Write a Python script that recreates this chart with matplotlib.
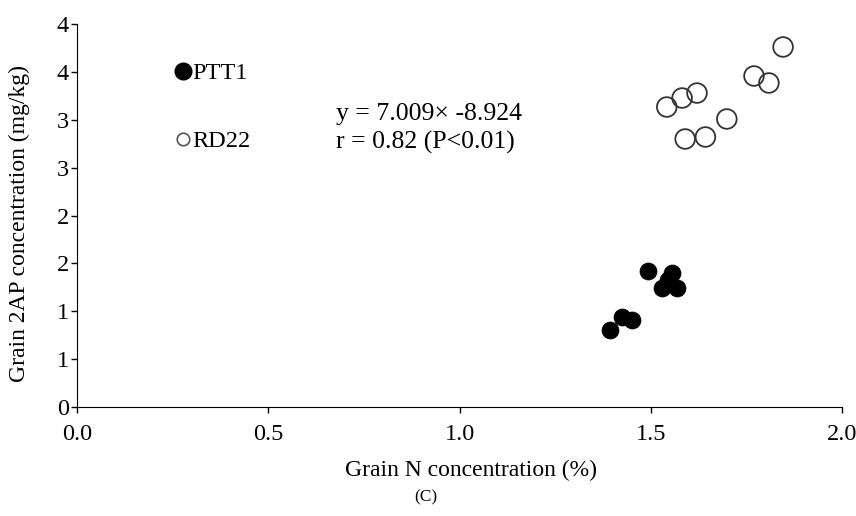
import matplotlib
matplotlib.use("Agg")
import matplotlib.pyplot as plt
from matplotlib.lines import Line2D

plt.rcParams["font.family"] = ["Liberation Serif", "DejaVu Serif"]

# PTT1 (filled)
ptt1_n  = [1.393, 1.425, 1.451, 1.493, 1.556, 1.529, 1.569, 1.545]
ptt1_ap = [0.804, 0.940, 0.909, 1.420, 1.399, 1.243, 1.243, 1.326]
# RD22 (open)
rd22_n  = [1.542, 1.582, 1.621, 1.590, 1.643, 1.699, 1.770, 1.809, 1.846]
rd22_ap = [3.133, 3.227, 3.279, 2.799, 2.820, 3.008, 3.457, 3.384, 3.760]

x_ticks = [0.0, 0.5, 1.0, 1.5, 2.0]
x_tick_labels = ["0.0", "0.5", "1.0", "1.5", "2.0"]
y_ticks = [0, 0.5, 1, 1.5, 2, 2.5, 3, 3.5, 4]
y_tick_labels = ["0", "1", "1", "2", "2", "3", "3", "4", "4"]

fig = plt.figure(figsize=(8.56, 5.16), dpi=100)
ax = fig.add_axes([0.090, 0.2112, 0.8936, 0.7423])

ax.scatter(ptt1_n, ptt1_ap, s=150, c="black", edgecolors="black",
           linewidths=0.5, zorder=3)
ax.scatter(rd22_n, rd22_ap, s=200, facecolors="none", edgecolors="#333333",
           linewidths=1.3, zorder=3)

ax.set_xlim(0, 2)
ax.set_ylim(0, 4)
ax.set_xticks(x_ticks)
ax.set_xticklabels(x_tick_labels)
ax.set_yticks(y_ticks)
ax.set_yticklabels(y_tick_labels)
ax.tick_params(labelsize=17.5, length=4, width=1, direction="out")
ax.tick_params(axis="x", pad=8)
ax.tick_params(axis="y", pad=2)
for s in ("top", "right"):
    ax.spines[s].set_visible(False)

ax.set_xlabel("Grain N concentration (%)", fontsize=17)
ax.set_ylabel("Grain 2AP concentration (mg/kg)", fontsize=17)
ax.xaxis.set_label_coords(0.515, -0.138)
ax.yaxis.set_label_coords(-0.062, 0.48)
fig.text(0.497, 0.037, "(C)", ha="center", va="center", fontsize=12.5)

ax.text(0.338, 0.765, "y = 7.009\u00d7 -8.924", transform=ax.transAxes,
        fontsize=18.5, va="center")
ax.text(0.338, 0.690, "r = 0.82 (P<0.01)", transform=ax.transAxes,
        fontsize=18.5, va="center")

handles = [
    Line2D([], [], ls="none", marker="o", ms=12, mfc="black", mec="black"),
    Line2D([], [], ls="none", marker="o", ms=9, mfc="none", mec="#555555", mew=1.2),
]
ax.legend(handles, ["PTT1", "RD22"], loc="upper left",
          bbox_to_anchor=(0.113, 0.932), frameon=False, fontsize=17.5,
          handlelength=0.6, handletextpad=0.1, labelspacing=1.9,
          borderpad=0)

fig.savefig("out.png", dpi=100)
